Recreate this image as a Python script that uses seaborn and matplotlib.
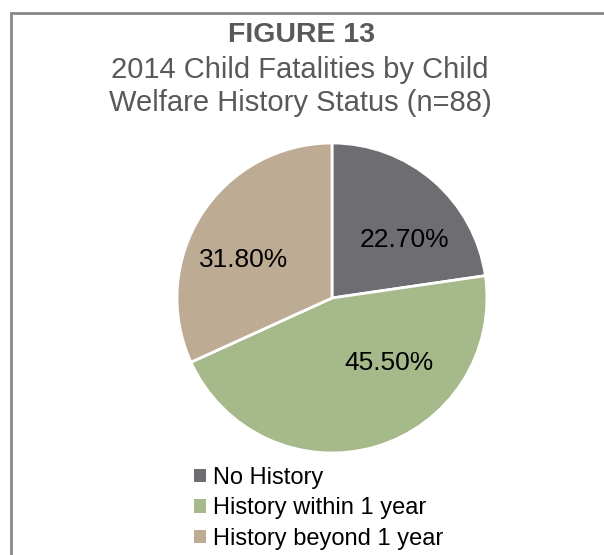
import numpy as np
import matplotlib
matplotlib.use("Agg")
import matplotlib.pyplot as plt
from matplotlib.patches import Rectangle, Patch
import seaborn as sns

# Data
categories = ["No History", "History within 1 year", "History beyond 1 year"]
shares = [22.7, 45.5, 31.8]
colors = ["#6e6d72", "#a6b98a", "#bdab94"]

title = "FIGURE 13"
subtitle_lines = ["2014 Child Fatalities by Child", "Welfare History Status (n=88)"]

sns.set_theme(style="white")
plt.rcParams["font.family"] = ["Liberation Sans", "DejaVu Sans"]

W, H = 604, 555
fig = plt.figure(figsize=(W / 100, H / 100), dpi=100)
fig.patch.set_facecolor("white")

# Frame around the chart area (runs off right and bottom edges)
fig.patches.append(Rectangle((11 / W, -0.1), 1.2, 1.1 - 13 / H,
                             transform=fig.transFigure, fill=False,
                             edgecolor="#878787", linewidth=2))

# Pie axes
cx, cy, r = 332, 298, 155
ax = fig.add_axes([(cx - r) / W, 1 - (cy + r) / H, 2 * r / W, 2 * r / H])
wedges, _, autotexts = ax.pie(
    shares, colors=colors, startangle=90, counterclock=False,
    autopct=lambda p: f"{p:.2f}%", pctdistance=0.6,
    wedgeprops=dict(edgecolor="white", linewidth=2),
    textprops=dict(fontsize=19, color="black"))
ax.set_xlim(-1, 1)
ax.set_ylim(-1, 1)
ax.set_aspect("equal")
ax.axis("off")

# Label anchors (angle in degrees, radius fraction)
label_spots = [(38.5, 0.60), (-48.7, 0.56), (156.6, 0.62)]
for t, (ang, rad) in zip(autotexts, label_spots):
    a = np.deg2rad(ang)
    t.set_position((rad * np.cos(a), rad * np.sin(a)))
    t.set_ha("center")
    t.set_va("center")

# Titles
fig.text(302 / W, 1 - 35 / H, title, ha="center", va="center",
         fontsize=20.5, fontweight="bold", color="#595959")
for i, line in enumerate(subtitle_lines):
    fig.text(300 / W, 1 - (70 + 33 * i) / H, line, ha="center", va="center",
             fontsize=21, color="#595959")

# Legend
handles = [Patch(facecolor=c, edgecolor="none") for c in colors]
fig.legend(handles, categories, loc="upper left",
           bbox_to_anchor=(182 / W, 1 - 455 / H), frameon=False,
           fontsize=17, handlelength=0.5, handleheight=0.5,
           handletextpad=0.3, labelspacing=0.36, borderpad=0,
           labelcolor="black")

fig.savefig("out.png", dpi=100)
